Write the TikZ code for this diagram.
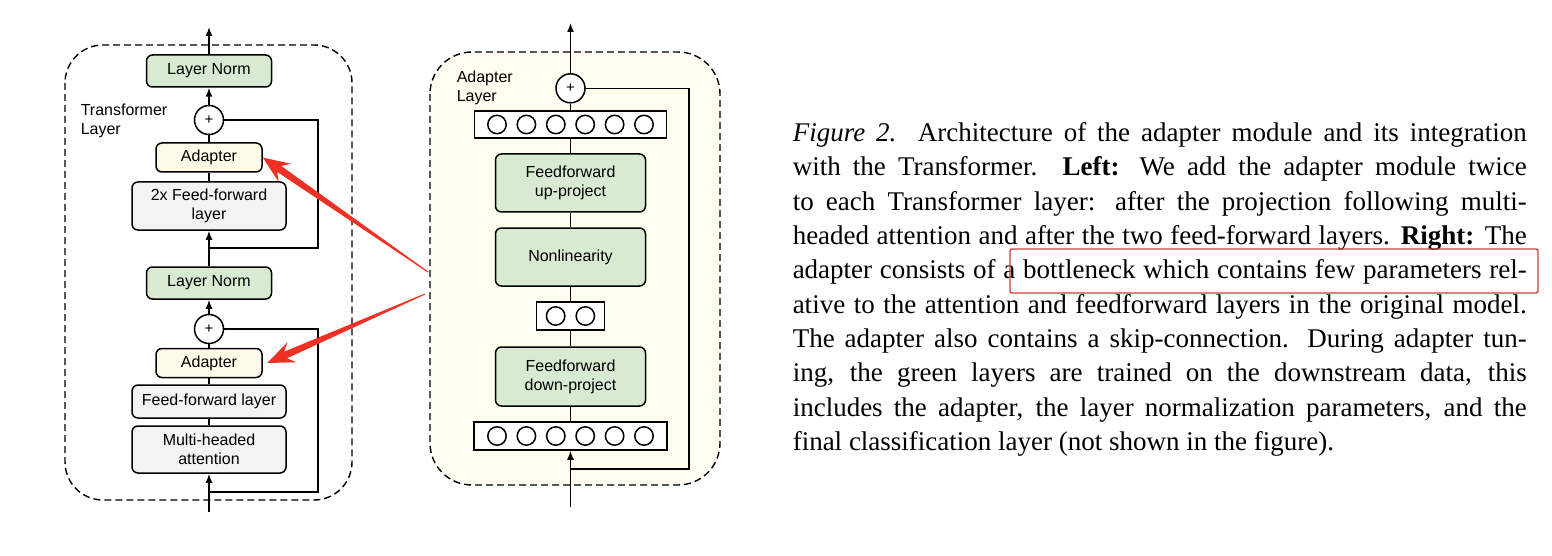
\documentclass[tikz,border=0pt]{standalone}
\usepackage{fontspec}
\setmainfont{Liberation Serif}
\setsansfont{Liberation Sans}
\usetikzlibrary{arrows.meta,calc}

\definecolor{lngreen}{HTML}{D9EAD3}
\definecolor{ffgrey}{HTML}{F3F3F3}
\definecolor{adyellow}{HTML}{FFFAE8}
\definecolor{layerbg}{HTML}{FFFDF0}
\definecolor{pointred}{HTML}{EE3124}
\definecolor{markred}{HTML}{D63B3B}

\begin{document}
\begin{tikzpicture}[x=1pt, y=-1pt, line width=1.5pt, >={Latex[length=9pt,width=7pt]},
    block/.style={draw, rounded corners=6pt, align=center, inner sep=0pt, font=\sffamily\fontsize{16}{19}\selectfont},
    lnorm/.style={block, fill=lngreen, minimum width=125pt, minimum height=32pt},
    adbox/.style={block, fill=adyellow, minimum width=106pt, minimum height=29pt},
    ffbox/.style={block, fill=ffgrey, minimum width=154pt},
    projbox/.style={block, fill=lngreen, minimum width=150pt, minimum height=58pt},
    plusnode/.style={draw, circle, fill=white, minimum size=29pt, inner sep=0pt, font=\sffamily\fontsize{15}{15}\selectfont},
    vecbox/.style={draw, fill=white, minimum height=27pt, inner sep=0pt},
    unit/.style={draw, circle, fill=white, minimum size=18.4pt, inner sep=0pt},
    layerlabel/.style={anchor=north west, inner sep=0pt, align=left, font=\sffamily\fontsize{16}{19}\selectfont},
    capline/.style={anchor=base west, inner sep=0pt, font=\fontsize{27}{30}\selectfont},
    framebox/.style={dashed, dash pattern=on 7pt off 4pt, line width=1.4pt}
]

    \useasboundingbox (0,0) rectangle (1552,556);

    \newcommand{\redpointer}[2]{
        \path ($(#2)!20pt!(#1)$) coordinate (hb);
        \path ($(#2)!27pt!(#1)$) coordinate (hc);
        \fill[pointred] ($(#1)!0.5pt!90:(#2)$) -- ($(hb)!3.6pt!90:(#2)$) -- ($(hc)!11pt!90:(#2)$) -- (#2)
            -- ($(hc)!11pt!-90:(#2)$) -- ($(hb)!3.6pt!-90:(#2)$) -- ($(#1)!0.5pt!-90:(#2)$) -- cycle;
    }

    \newcommand{\capline}[2]{
        \node[capline] (cap#1) at (792,{141.7+34.3*(#1-1)}) {\makebox[734pt][s]{#2}};
    }

    % Frames
    \draw[framebox, rounded corners=38pt] (65,45) rectangle (352,500);
    \draw[framebox, fill=layerbg, rounded corners=42pt] (430,52) rectangle (720,485);

    \node[layerlabel] (tlabel) at (80,103) {Transformer\\Layer};
    \node[layerlabel] (alabel) at (456,70) {Adapter\\Layer};

    % Transformer layer
    \node[lnorm] (ln1) at (209,71) {Layer Norm};
    \node[plusnode] (plus1) at (209,120) {+};
    \node[adbox] (ad1) at (209,157.5) {Adapter};
    \node[ffbox, minimum height=48pt] (ff2) at (209,206) {2x Feed-forward\\layer};
    \node[lnorm] (ln2) at (209,283) {Layer Norm};
    \node[plusnode] (plus2) at (209,329) {+};
    \node[adbox] (ad2) at (209,363) {Adapter};
    \node[ffbox, minimum height=33pt] (ff1) at (209,401.5) {Feed-forward layer};
    \node[ffbox, minimum height=47pt] (mha) at (209,449.5) {Multi-headed\\attention};

    \coordinate (outL) at (209,27);
    \coordinate (inL) at (209,512);
    \coordinate (skipL1) at (318,248);
    \coordinate (skipL2) at (318,492);

    \draw[->] (ln1.north) -- (outL);
    \draw[->] (plus1.north) -- (ln1.south);
    \draw (ad1.north) -- (plus1.south);
    \draw (ff2.north) -- (ad1.south);
    \draw[->] (ln2.north) -- (ff2.south);
    \draw (plus1.east) -| (skipL1) -- (skipL1 -| ln2.north);
    \draw[->] (plus2.north) -- (ln2.south);
    \draw (ad2.north) -- (plus2.south);
    \draw (ff1.north) -- (ad2.south);
    \draw (mha.north) -- (ff1.south);
    \draw[->] (inL) -- (mha.south);
    \draw (plus2.east) -| (skipL2) -- (skipL2 -| inL);

    % Adapter layer
    \node[plusnode] (plusR) at (570.5,88.3) {+};
    \node[vecbox, minimum width=192pt] (vectop) at (570.5,124.5) {};
    \node[projbox] (up) at (570.5,183) {Feedforward\\up-project};
    \node[projbox] (nonlin) at (570.5,257) {Nonlinearity};
    \node[vecbox, minimum width=68pt, minimum height=28pt] (vecmid) at (570.5,316) {};
    \node[projbox, minimum height=59pt] (down) at (570.5,376.5) {Feedforward\\down-project};
    \node[vecbox, minimum width=193pt, minimum height=28pt] (vecbot) at (570.5,436) {};

    \foreach \k [count=\i] in {-2.5,-1.5,...,2.5}{
        \node[unit] (topu\i) at ($(vectop)+(\k*29.4,0)$) {};
        \node[unit] (botu\i) at ($(vecbot)+(\k*29.4,0)$) {};
    }
    \foreach \k [count=\i] in {-0.5,0.5}
        \node[unit] (midu\i) at ($(vecmid)+(\k*29.7,0)$) {};

    \coordinate (outR) at (570.5,23);
    \coordinate (inR) at (570.5,507);
    \coordinate (skipR) at (689,469);

    \draw[->] (plusR.north) -- (outR);
    \draw (vectop.north) -- (plusR.south);
    \draw (up.north) -- (vectop.south);
    \draw (nonlin.north) -- (up.south);
    \draw (vecmid.north) -- (nonlin.south);
    \draw (down.north) -- (vecmid.south);
    \draw (vecbot.north) -- (down.south);
    \draw[->] (inR) -- (vecbot.south);
    \draw (plusR.east) -| (skipR) -- (skipR -| inR);

    % Red pointers
    \coordinate (tailA) at (428,272);
    \coordinate (tailB) at (425,294);
    \coordinate (tipB) at ($(ad2.east)+(4.5,0)$);
    \redpointer{tailA}{ad1.east}
    \redpointer{tailB}{tipB}

    % Caption
    \capline{1}{\textit{Figure 2.} Architecture of the adapter module and its integration}
    \capline{2}{with the Transformer. \textbf{Left:} We add the adapter module twice}
    \capline{3}{to each Transformer layer: after the projection following multi-}
    \capline{4}{headed attention and after the two feed-forward layers. \textbf{Right:} The}
    \capline{5}{adapter consists of a bottleneck which contains few parameters rel-}
    \capline{6}{ative to the attention and feedforward layers in the original model.}
    \capline{7}{The adapter also contains a skip-connection. During adapter tun-}
    \capline{8}{ing, the green layers are trained on the downstream data, this}
    \capline{9}{includes the adapter, the layer normalization parameters, and the}
    \node[capline] (cap10) at (792,{141.7+34.3*9}) {final classification layer (not shown in the figure).};

    \draw[markred, line width=1.4pt, rounded corners=2pt] (1010,249) rectangle (1538,293);

\end{tikzpicture}
\end{document}
